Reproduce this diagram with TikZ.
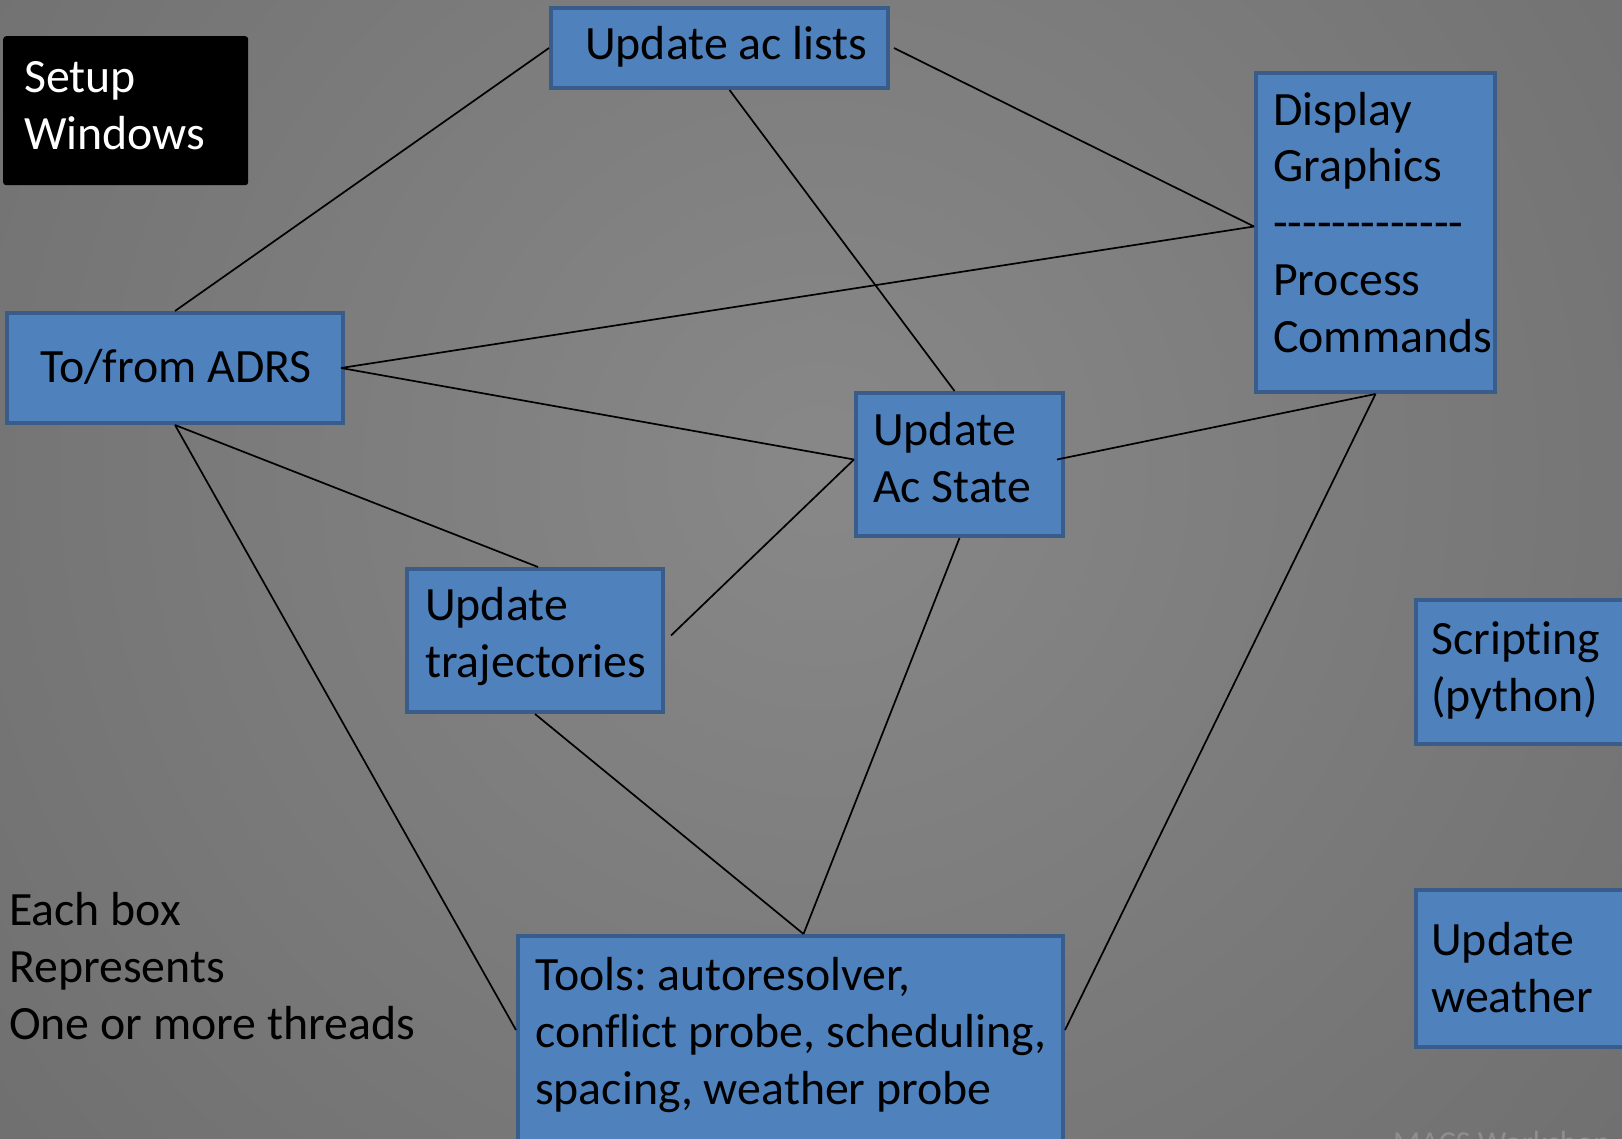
\documentclass[tikz,border=0pt]{standalone}
\usepackage{fontspec}
\setmainfont{Carlito}[Ligatures={TeX,NoCommon}]
\newfontfamily\nolig{Carlito}
\usetikzlibrary{calc}
\definecolor{boxfill}{HTML}{4F81BD}
\definecolor{boxline}{HTML}{385D8A}
\definecolor{bgin}{HTML}{888888}
\definecolor{bgout}{HTML}{5A5A5A}
\definecolor{wmark}{HTML}{8E8E8E}
\frenchspacing
\begin{document}
\begin{tikzpicture}[x=1pt,y=-1pt,
  bluebox/.style={draw=boxline, fill=boxfill, line width=4pt, inner sep=0pt, anchor=north west},
  blackbox/.style={fill=black, rounded corners=3pt, inner sep=0pt, anchor=north west},
  boxtext/.style={anchor=base west, inner sep=0pt, align=left, font=\fontsize{47.8}{57}\selectfont\frenchspacing, text=black},
  link/.style={draw=black, line width=1.7pt}]
\useasboundingbox (0,0) rectangle (1622,1139);
\begin{scope}
\clip (0,0) rectangle (1622,1139);
\shade[inner color=bgin, outer color=bgout] (820,470) circle (2000);

% boxes (text nodes anchored at the baseline of their last line)
\node[blackbox, minimum width=245pt, minimum height=149pt] (setup) at (3,36) {};
\node[boxtext, text=white] (setup-t) at (24,150) {Setup\\Windows};

\node[bluebox, minimum width=337pt, minimum height=80pt] (acl) at (549,6) {};
\node[boxtext] (acl-t) at (585,60) {Update ac lists};

\node[bluebox, minimum width=336pt, minimum height=110pt] (adrs) at (5,311) {};
\node[boxtext] (adrs-t) at (40,382) {To/from ADRS};

\node[bluebox, minimum width=239pt, minimum height=319pt] (disp) at (1254,71) {};
\node[boxtext] (disp-t) at (1273,353) {Display\\Graphics\\{\nolig -------------}\\Process\\Commands};

\node[bluebox, minimum width=207pt, minimum height=143pt] (acs) at (854,391) {};
\node[boxtext] (acs-t) at (873,502) {Update\\Ac State};

\node[bluebox, minimum width=256pt, minimum height=143pt] (traj) at (405,567) {};
\node[boxtext] (traj-t) at (425,677) {Update\\trajectories};

\node[bluebox, minimum width=240pt, minimum height=144pt] (scr) at (1414,598) {};
\node[boxtext] (scr-t) at (1431,711) {Scripting\\(python)};

\node[bluebox, minimum width=240pt, minimum height=157pt] (wea) at (1414,888) {};
\node[boxtext] (wea-t) at (1431,1012) {Update\\weather};

\node[bluebox, minimum width=545pt, minimum height=240pt] (tools) at (516,934) {};
\node[boxtext] (tools-t) at (535,1104) {Tools: autoresolver,\\conflict probe, scheduling,\\spacing, weather probe};

\node[boxtext] (note) at (9,1039) {Each box\\Represents\\One or more threads};

\node[anchor=base west, inner sep=0pt, font=\fontsize{32}{38}\selectfont, text=wmark] (wm) at (1393,1153) {MACS Workshop};

% connectors
\draw[link] (acl.west) -- (adrs.north);
\draw[link] ($(acl.south)+(10,0)$) -- ($(acs.north)+(-5,0)$);
\draw[link] ($(acl.east)+(4,0)$) -- ($(disp.west)+(0,-6)$);
\draw[link] ($(disp.west)+(0,-6)$) -- ($(adrs.east)+(-4,0)$);
\draw[link] ($(adrs.east)+(-4,0)$) -- ($(acs.west)+(0,-5)$);
\draw[link] ($(acs.east)+(-8,-5)$) -- (disp.south);
\draw[link] (disp.south) -- ($(tools.north east)+(0,96)$);
\draw[link] (acs.south) -- ($(tools.north)+(13,0)$);
\draw[link] ($(traj.east)+(6,-5)$) -- ($(acs.west)+(0,-5)$);
\draw[link] (traj.south) -- ($(tools.north)+(13,0)$);
\draw[link] (adrs.south) -- ($(traj.north)+(3,0)$);
\draw[link] (adrs.south) -- ($(tools.north west)+(0,96)$);
\end{scope}
\end{tikzpicture}
\end{document}
